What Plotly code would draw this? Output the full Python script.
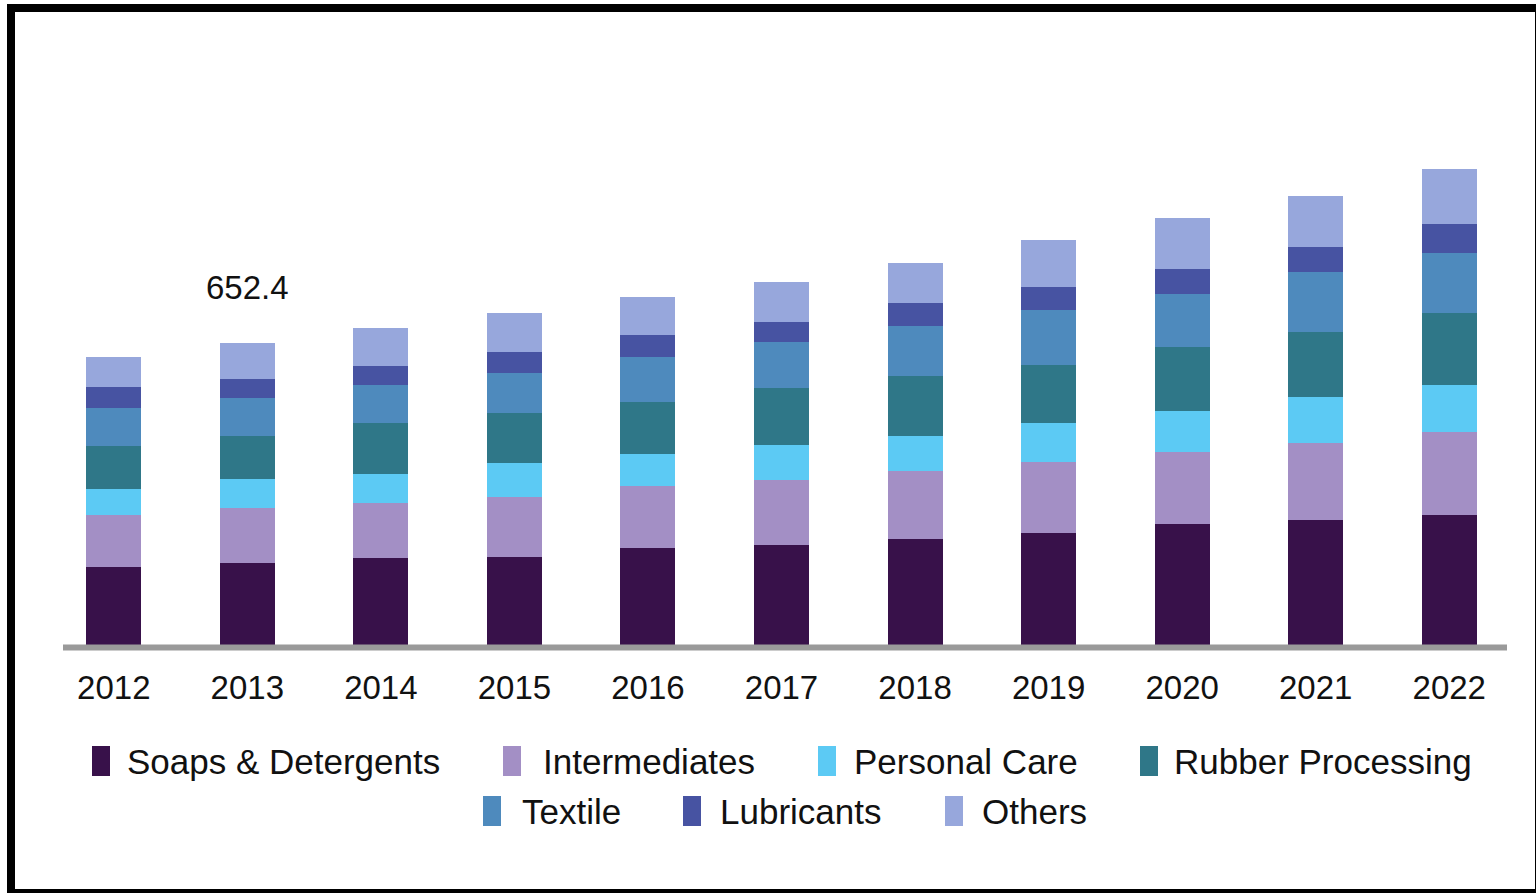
import plotly.graph_objects as go

years = ["2012", "2013", "2014", "2015", "2016", "2017", "2018", "2019", "2020", "2021", "2022"]
soaps = [168.5, 177.1, 187.9, 190.1, 209.5, 216.0, 229.0, 241.9, 261.4, 270.0, 280.8]
intermediates = [112.3, 118.8, 118.8, 129.6, 133.9, 140.4, 146.9, 153.4, 155.5, 166.3, 179.3]
personal_care = [56.2, 62.6, 62.6, 73.4, 69.1, 75.6, 75.6, 84.2, 88.6, 99.4, 101.5]
rubber = [92.9, 92.9, 110.2, 108.0, 112.3, 123.1, 129.6, 125.3, 138.2, 140.4, 155.5]
textile = [82.1, 82.1, 82.1, 86.4, 97.2, 99.4, 108.0, 118.8, 114.5, 129.6, 129.6]
lubricants = [45.4, 41.0, 41.0, 45.4, 47.5, 43.2, 49.7, 49.7, 54.0, 54.0, 62.6]
others = [64.8, 77.9, 82.1, 84.2, 82.1, 86.4, 86.4, 101.5, 110.2, 110.2, 118.8]

series_names = ["Soaps & Detergents", "Intermediates", "Personal Care", "Rubber Processing",
                "Textile", "Lubricants", "Others"]
series_values = [soaps, intermediates, personal_care, rubber, textile, lubricants, others]
colors = ["#38114A", "#A38FC5", "#5CCAF4", "#2F7788", "#4E8ABD", "#4753A2", "#97A7DC"]

label_year = "2013"

FONT = "Liberation Sans, Arial, sans-serif"

W, H = 1536, 893
ML, MR, MT, MB = 47, 20, 150, 248
PW, PH = W - ML - MR, H - MT - MB
UNITS_PER_PX = 2.16


def px(x):
    return (x - ML) / PW


def py(y):
    return (H - MB - y) / PH


fig = go.Figure()
for name, vals, col in zip(series_names, series_values, colors):
    fig.add_trace(go.Bar(x=years, y=vals, name=name, marker=dict(color=col, line=dict(width=0)),
                         showlegend=False))

idx = years.index(label_year)
total = sum(v[idx] for v in series_values)
fig.add_annotation(x=idx, y=total, text=f"{total:.1f}", showarrow=False,
                   yanchor="bottom", yshift=35, font=dict(family=FONT, size=33, color="#111111"))

shapes = []
# x-axis baseline
shapes.append(dict(type="line", xref="paper", yref="paper", x0=px(63), x1=px(1507),
                   y0=py(647.5), y1=py(647.5), line=dict(color="#9A9A9A", width=6), layer="above"))
# outer frame
shapes.append(dict(type="rect", xref="paper", yref="paper", x0=px(11), x1=px(1539),
                   y0=py(893), y1=py(8), line=dict(color="#000000", width=8)))

# manual legend (two centred rows)
legend_pos = [(92, 761, 125), (503, 761, 541), (818, 761, 852), (1140, 761, 1172),
              (483, 811, 520), (683, 811, 718), (945, 811, 980)]
for (mx, my, tx), name, col in zip(legend_pos, series_names, colors):
    shapes.append(dict(type="rect", xref="paper", yref="paper", x0=px(mx), x1=px(mx + 18),
                       y0=py(my + 15), y1=py(my - 15), fillcolor=col, line=dict(width=0)))
    fig.add_annotation(xref="paper", yref="paper", x=px(tx), y=py(my), text=name,
                       showarrow=False, xanchor="left", yanchor="middle",
                       font=dict(family=FONT, size=35, color="#111111"))

fig.update_layout(
    width=W, height=H,
    margin=dict(l=ML, r=MR, t=MT, b=MB),
    barmode="stack", bargap=0.588,
    paper_bgcolor="white", plot_bgcolor="white",
    shapes=shapes,
    xaxis=dict(type="category", range=[-0.5, len(years) - 0.5], showgrid=False, showline=False,
               zeroline=False, ticks="outside", ticklen=13, tickcolor="rgba(0,0,0,0)",
               tickfont=dict(family=FONT, size=33, color="#111111")),
    yaxis=dict(visible=False, range=[0, PH * UNITS_PER_PX]),
)

fig.write_html("out.html", config={"displayModeBar": False},
               post_script="document.body.style.margin='0';")
